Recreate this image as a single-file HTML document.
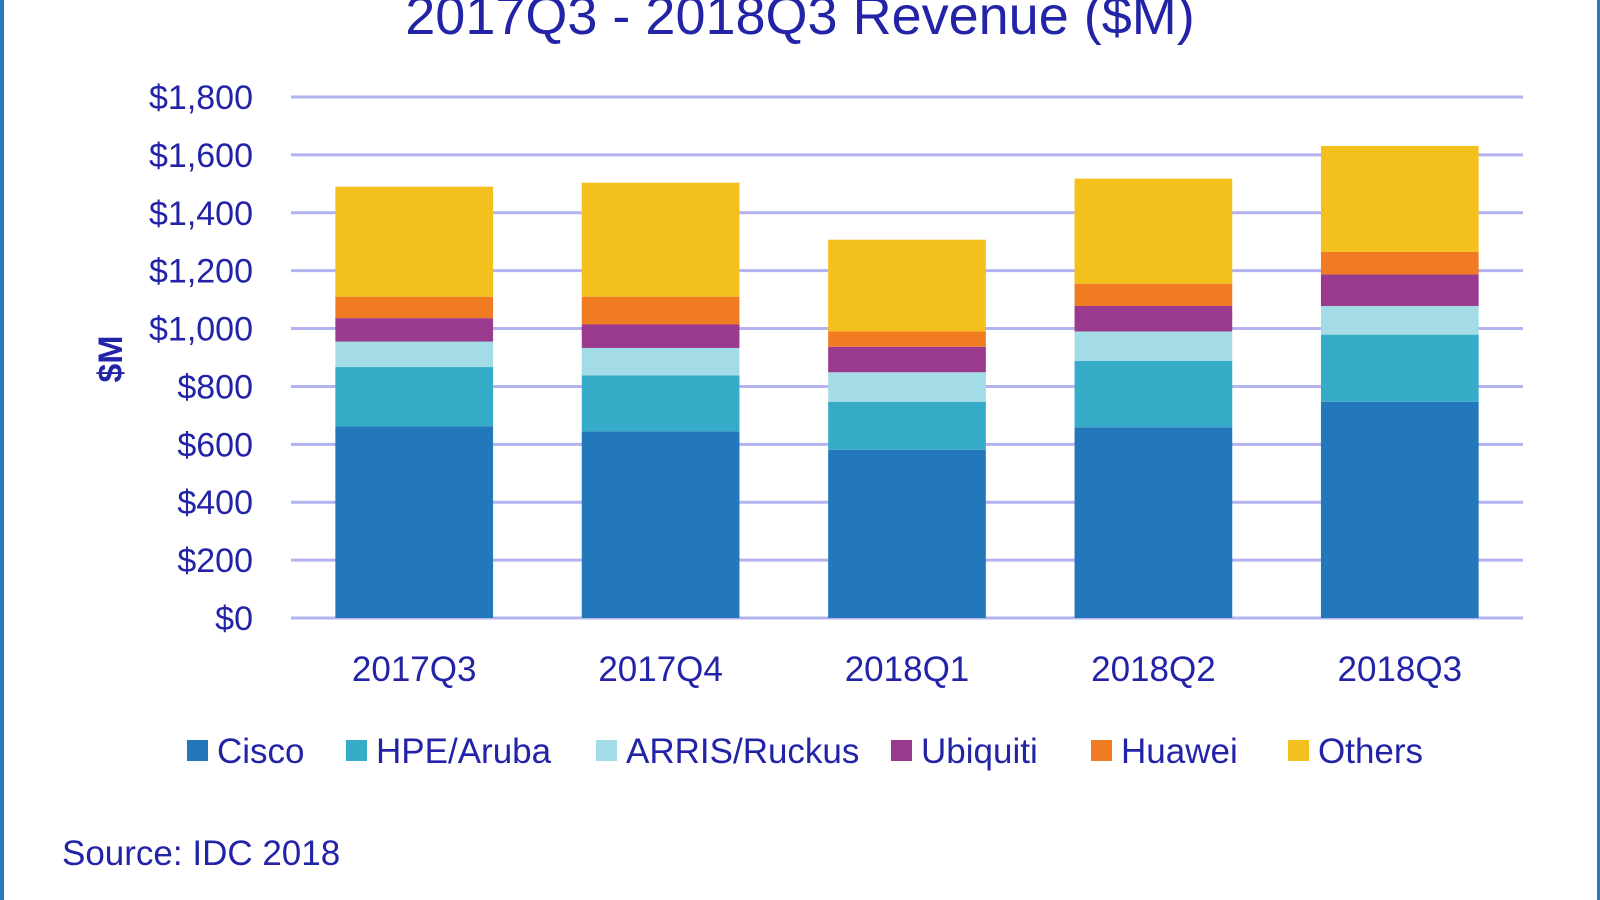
<!DOCTYPE html>
<html><head><meta charset="utf-8"><style>
html,body{margin:0;padding:0;background:#fff;}
body{width:1600px;height:900px;overflow:hidden;position:relative;font-family:"Liberation Sans",sans-serif;}
</style></head><body>
<div style="position:absolute;left:0;top:0;width:4px;height:900px;background:#2a7abf"></div>
<div style="position:absolute;left:1597px;top:0;width:3px;height:900px;background:#2a7abf"></div>
<svg id="chart" width="1600" height="900" style="position:absolute;left:0;top:0"></svg>
<script>
const categories=["2017Q3","2017Q4","2018Q1","2018Q2","2018Q3"];
const seriesNames=["Cisco","HPE/Aruba","ARRIS/Ruckus","Ubiquiti","Huawei","Others"];
const cisco=[662,645,581,659,747];
const hpe=[205,193,166,229,232];
const arris=[88,95,102,102,99];
const ubiquiti=[81,81,88,88,109];
const huawei=[74,96,53,77,78];
const others=[380,394,317,363,366];
const yTicks=[0,200,400,600,800,1000,1200,1400,1600,1800];
const yTickLabels=["$0","$200","$400","$600","$800","$1,000","$1,200","$1,400","$1,600","$1,800"];
const series=[cisco,hpe,arris,ubiquiti,huawei,others];
const colors=["#2378bc","#36acc8","#a3dbe6","#9a3a8e","#f07b22","#f3c01e"];
const NS="http://www.w3.org/2000/svg";
const svg=document.getElementById('chart');
const X0=291,X1=1523,Y0=618,Y1=97,YMAX=1800;
const y=v=>Y0-(v/YMAX)*(Y0-Y1);
const band=(X1-X0)/categories.length;
const xc=i=>X0+band*(i+0.5);
const bw=band*0.64;
const TXT="#2323a8";
function mk(t,a){const e=document.createElementNS(NS,t);for(const k in a)e.setAttribute(k,a[k]);svg.appendChild(e);return e;}
let t=mk('text',{x:800,y:34,'text-anchor':'middle','font-size':54,fill:TXT});
t.textContent="2017Q3 - 2018Q3 Revenue ($M)";


yTicks.forEach((v,i)=>{
 const g=mk('line',{x1:X0,x2:X1,y1:y(v),y2:y(v),stroke:"#b3b3f0",'stroke-width':3});
 
 
 const l=mk('text',{x:253,y:y(v)+12,'text-anchor':'end','font-size':34,fill:TXT});
 l.textContent=yTickLabels[i];
 
 
});
t=mk('text',{x:0,y:0,'text-anchor':'middle','font-size':34,'font-weight':'bold',fill:TXT,transform:'translate(122,359) rotate(-90)'});
t.textContent="$M";


categories.forEach((c,i)=>{
 let cum=0;
 series.forEach((s,j)=>{
  const v=s[i];
  const r=mk('rect',{x:xc(i)-bw/2,y:y(cum+v),width:bw,height:y(cum)-y(cum+v),fill:colors[j]});
  
  
  cum+=v;
 });
 const l=mk('text',{x:xc(i),y:681,'text-anchor':'middle','font-size':35,fill:TXT});
 l.textContent=c;
 
 
});
const lx=[187,346,596,891,1091,1288];
seriesNames.forEach((n,j)=>{
 const r=mk('rect',{x:lx[j],y:740,width:21,height:21,fill:colors[j]});
 
 
 const l=mk('text',{x:lx[j]+30,y:763,'font-size':35,fill:TXT});
 l.textContent=n;
 
 
});
t=mk('text',{x:62,y:865,'font-size':35,fill:TXT});
t.textContent="Source: IDC 2018";


</script>
</body></html>
